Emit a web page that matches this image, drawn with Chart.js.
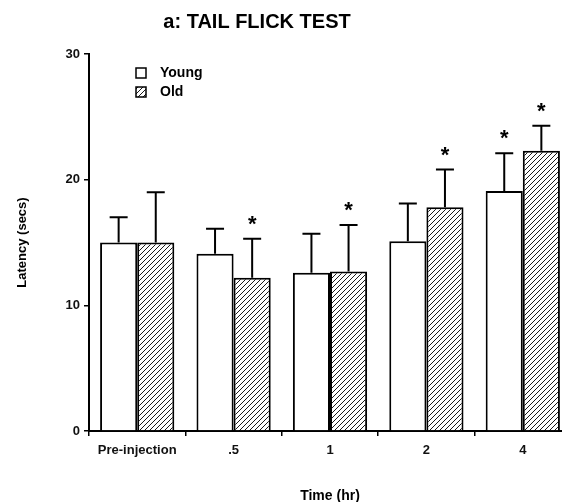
<!DOCTYPE html>
<html>
<head>
<meta charset="utf-8">
<script src="https://cdn.jsdelivr.net/npm/chart.js@4.4.1/dist/chart.umd.min.js"></script>
<style>
  html, body { margin: 0; padding: 0; background: #fff; overflow: hidden; }
  #wrap { width: 562px; height: 502px; overflow: hidden; }
</style>
</head>
<body>
<div id="wrap"><canvas id="chart" width="572" height="502"></canvas></div>
<script>
const timePoints = ['Pre-injection', '.5', '1', '2', '4'];   // x categories
const seriesNames = ['Young', 'Old'];
const youngMean = [15.0, 14.1, 12.6, 15.1, 19.1];
const youngErr  = [2.0, 2.0, 3.1, 3.0, 3.0];
const oldMean   = [15.0, 12.2, 12.7, 17.8, 22.3];
const oldErr    = [4.0, 3.1, 3.7, 3.0, 2.0];
const youngStar = [false, false, false, false, true];   // significance asterisks
const oldStar   = [false, true, true, true, true];
const yTicks    = [0, 10, 20, 30];

const FONT = '"Liberation Sans", Arial, Helvetica, sans-serif';
const ctx = document.getElementById('chart').getContext('2d');

//makes the diagonal hatch used for the Old bars
function makeHatch() {
    const c = document.createElement('canvas');
    c.width = 5; c.height = 5;
    const h = c.getContext('2d');
    h.fillStyle = '#fff';
    h.fillRect(0, 0, 5, 5);
    h.strokeStyle = '#1a1a1a';
    h.lineWidth = 1;
    h.beginPath();
    h.moveTo(0, 5); h.lineTo(5, 0);
    h.moveTo(-1, 1); h.lineTo(1, -1);
    h.moveTo(4, 6); h.lineTo(6, 4);
    h.stroke();
    return ctx.createPattern(c, 'repeat');
}
const hatch = makeHatch();

//draws title, legend, error bars and asterisks
const extras = {
    id: 'extras',
    afterDatasetsDraw(chart) {
        const c = chart.ctx;
        const y = chart.scales.y;
        const errs = [youngErr, oldErr];
        const stars = [youngStar, oldStar];
        c.save();
        c.strokeStyle = '#000';
        c.lineWidth = 2;
        chart.data.datasets.forEach((ds, di) => {
            const meta = chart.getDatasetMeta(di);
            meta.data.forEach((bar, i) => {
                const top = y.getPixelForValue(ds.data[i]);
                const cap = y.getPixelForValue(ds.data[i] + errs[di][i]);
                c.beginPath();
                c.moveTo(bar.x, top);
                c.lineTo(bar.x, cap);
                c.moveTo(bar.x - 9, cap);
                c.lineTo(bar.x + 9, cap);
                c.stroke();
                if (stars[di][i]) {
                    c.fillStyle = '#000';
                    c.font = 'bold 22px ' + FONT;
                    c.textAlign = 'center';
                    c.textBaseline = 'alphabetic';
                    c.fillText('*', bar.x, cap - 8);
                }
            });
        });
        c.restore();
    },
    afterDraw(chart) {
        const c = chart.ctx;
        c.save();
        c.fillStyle = '#000';
        c.textBaseline = 'middle';
        c.textAlign = 'center';
        c.font = 'bold 20px ' + FONT;
        c.fillText('a: TAIL FLICK TEST', 257, 22);
        //legend
        c.textAlign = 'left';
        c.font = 'bold 14px ' + FONT;
        chart.data.datasets.forEach((ds, di) => {
            const ty = 73 + di * 19;
            c.fillStyle = ds.backgroundColor;
            c.fillRect(136, ty - 5, 10, 10);
            c.strokeStyle = '#000';
            c.lineWidth = 1.5;
            c.strokeRect(136, ty - 5, 10, 10);
            c.fillStyle = '#000';
            c.fillText(ds.label, 160, ty);
        });
        c.restore();
    }
};

new Chart(ctx, {
    type: 'bar',
    data: {
        labels: timePoints,
        datasets: [{
            label: seriesNames[0],
            data: youngMean,
            backgroundColor: '#fff',
            borderColor: '#000',
            borderWidth: 2
        }, {
            label: seriesNames[1],
            data: oldMean,
            backgroundColor: hatch,
            borderColor: '#000',
            borderWidth: 2
        }]
    },
    options: {
        responsive: false,
        animation: false,
        devicePixelRatio: 1,
        layout: { padding: { top: 54, right: 1, left: 0, bottom: 0 } },
        datasets: { bar: { categoryPercentage: 0.77, barPercentage: 1 } },
        plugins: {
            legend: { display: false },
            tooltip: { enabled: false }
        },
        scales: {
            x: {
                offset: true,
                afterFit: s => { s.height = 71; },
                grid: { offset: true, drawOnChartArea: false, tickLength: 5, color: '#000', lineWidth: 1.5 },
                border: { color: '#000', width: 2 },
                ticks: { color: '#111', padding: 7, font: { family: FONT, size: 13, weight: 'bold' } },
                title: {
                    display: true, text: 'Time (hr)', color: '#000',
                    font: { family: FONT, size: 14, weight: 'bold' },
                    padding: { top: 0, bottom: -3 }
                }
            },
            y: {
                min: 0, max: 30,
                afterFit: s => { s.width = 89; },
                afterBuildTicks: s => { s.ticks = yTicks.map(v => ({ value: v })); },
                grid: { drawOnChartArea: false, tickLength: 5, color: '#000', lineWidth: 1.5 },
                border: { color: '#000', width: 2 },
                ticks: { color: '#111', padding: 4, font: { family: FONT, size: 13, weight: 'bold' } },
                title: {
                    display: true, text: 'Latency (secs)', color: '#000',
                    font: { family: FONT, size: 13, weight: 'bold' },
                    padding: { top: 15, bottom: 0 }
                }
            }
        }
    },
    plugins: [extras]
});
</script>
</body>
</html>
